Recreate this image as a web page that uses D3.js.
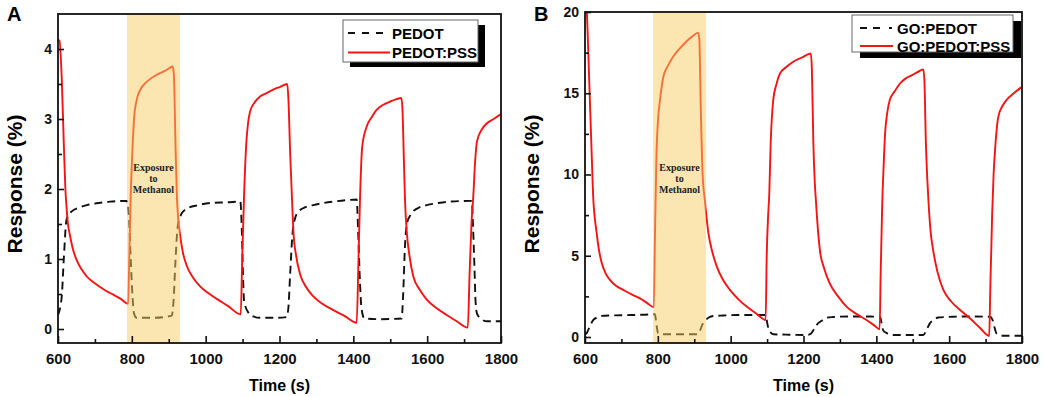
<!DOCTYPE html>
<html>
<head>
<meta charset="utf-8">
<script src="https://cdn.jsdelivr.net/npm/d3@7"></script>
<style>
  body { margin: 0; background: #fff; }
  svg { display: block; font-family: Arial, "Liberation Sans", Helvetica, sans-serif; }
</style>
</head>
<body>
<svg id="chart" width="1045" height="397"></svg>
<script>
// ---- data ----
const xTicks = [600, 800, 1000, 1200, 1400, 1600, 1800];
const xMinorTicks = [700, 900, 1100, 1300, 1500, 1700];
const yTicksA = [0, 1, 2, 3, 4];
const yMinorTicksA = [0.5, 1.5, 2.5, 3.5];
const yTicksB = [0, 5, 10, 15, 20];
const yMinorTicksB = [2.5, 7.5, 12.5, 17.5];
const exposureA = [787, 930];
const exposureB = [787, 932];
const exposureText = ["Exposure", "to", "Methanol"];
const namesA = ["PEDOT", "PEDOT:PSS"];
const namesB = ["GO:PEDOT", "GO:PEDOT:PSS"];

// [time (s), response (%)]
const pedotA = [
  [600,0.2],[610,0.46],[616,1.03],[623,1.56],[637,1.68],[660,1.74],[678,1.77],[710,1.8],[741,1.82],[786,1.83],
  [792,1.6],[797,1.0],[802,0.45],[806,0.22],[813,0.16],[860,0.16],[908,0.19],[913,0.4],[918,0.95],[924,1.45],
  [932,1.62],[949,1.72],[980,1.77],[1012,1.8],[1060,1.81],[1094,1.82],[1098,1.4],[1101,0.8],[1104,0.41],[1115,0.24],
  [1129,0.18],[1147,0.16],[1190,0.16],[1219,0.17],[1224,0.3],[1229,0.8],[1235,1.35],[1242,1.58],[1252,1.68],[1270,1.74],
  [1291,1.77],[1320,1.8],[1346,1.82],[1380,1.84],[1409,1.85],[1413,1.4],[1417,0.8],[1422,0.3],[1430,0.15],[1470,0.14],
  [1531,0.15],[1535,0.5],[1540,1.2],[1546,1.52],[1554,1.62],[1562,1.68],[1580,1.74],[1599,1.77],[1630,1.8],[1662,1.82],
  [1721,1.83],[1724,1.5],[1728,0.9],[1731,0.4],[1735,0.22],[1745,0.15],[1762,0.11],[1800,0.11]
];
const pedotPssA = [
  [600,4.13],[604,4.12],[610,3.6],[616,2.6],[620,2.0],[623,1.75],[627,1.5],[632,1.35],[640,1.15],[650,0.99],
  [663,0.86],[678,0.75],[695,0.67],[714,0.6],[732,0.54],[750,0.49],[770,0.43],[790,0.36],[793,1.0],[797,1.9],
  [802,2.6],[806,3.0],[813,3.27],[822,3.41],[840,3.53],[867,3.63],[894,3.7],[911,3.75],[914,3.62],[918,2.7],
  [922,1.9],[926,1.55],[930,1.37],[938,1.1],[949,0.9],[965,0.74],[985,0.61],[1005,0.52],[1030,0.43],[1060,0.33],
  [1095,0.21],[1099,1.0],[1104,1.9],[1110,2.65],[1115,2.95],[1120,3.1],[1133,3.24],[1147,3.32],[1165,3.37],[1183,3.42],
  [1202,3.46],[1221,3.5],[1224,3.3],[1229,2.5],[1234,1.84],[1238,1.37],[1245,1.05],[1256,0.78],[1272,0.6],[1291,0.47],
  [1316,0.36],[1346,0.27],[1378,0.18],[1409,0.09],[1414,1.0],[1418,1.84],[1424,2.6],[1436,2.89],[1450,3.03],[1463,3.13],
  [1480,3.2],[1500,3.25],[1515,3.28],[1530,3.3],[1533,3.15],[1537,2.4],[1540,1.84],[1545,1.37],[1552,1.05],[1562,0.76],
  [1580,0.56],[1599,0.42],[1625,0.3],[1653,0.2],[1680,0.11],[1710,0.02],[1715,0.8],[1720,1.5],[1725,1.9],[1730,2.4],
  [1735,2.68],[1748,2.85],[1762,2.94],[1780,3.0],[1800,3.07]
];
const goPedotB = [
  [600,0.15],[605,0.25],[614,0.7],[623,1.05],[632,1.2],[641,1.29],[680,1.33],[724,1.35],[760,1.37],[792,1.4],
  [795,1.0],[798,0.5],[801,0.23],[815,0.17],[860,0.17],[906,0.17],[912,0.2],[916,0.4],[922,0.75],[929,0.98],
  [940,1.2],[952,1.29],[980,1.32],[1016,1.35],[1060,1.35],[1096,1.35],[1100,0.9],[1104,0.5],[1108,0.33],[1117,0.17],
  [1160,0.14],[1209,0.12],[1220,0.2],[1228,0.45],[1236,0.74],[1250,1.0],[1264,1.19],[1282,1.23],[1300,1.25],[1350,1.26],
  [1410,1.25],[1414,0.9],[1419,0.4],[1430,0.22],[1446,0.12],[1490,0.12],[1529,0.12],[1537,0.4],[1547,0.84],[1558,1.05],
  [1570,1.2],[1590,1.23],[1611,1.25],[1660,1.26],[1712,1.25],[1720,1.0],[1725,0.55],[1730,0.22],[1740,0.12],[1748,0.08],
  [1800,0.08]
];
const goPedotPssB = [
  [600,21.5],[605,20],[612,15.5],[618,11.5],[623,8.4],[627,7.3],[632,6.4],[638,5.4],[646,4.55],[656,3.95],
  [669,3.5],[685,3.15],[705,2.9],[728,2.62],[751,2.38],[770,2.1],[789,1.83],[792,6],[796,11],[801,13.5],
  [806,14.6],[815,16.0],[828,16.7],[842,17.25],[860,17.75],[879,18.2],[895,18.5],[911,18.73],[914,18.3],[918,14],
  [923,10],[929,8.43],[939,6.38],[950,5.2],[962,4.33],[978,3.55],[998,2.9],[1020,2.35],[1044,1.87],[1070,1.45],
  [1096,1.05],[1099,5],[1103,7.5],[1106,8.8],[1110,12],[1117,14.6],[1125,15.5],[1135,16.2],[1152,16.6],[1172,16.94],
  [1196,17.2],[1220,17.45],[1223,16.5],[1227,12],[1231,9.5],[1234,8.43],[1240,6.5],[1245,5.35],[1257,4.2],[1272,3.3],
  [1295,2.5],[1318,1.87],[1345,1.42],[1373,1.05],[1395,0.7],[1409,0.47],[1412,4],[1416,8],[1420,10.5],[1424,12.5],
  [1430,13.8],[1437,14.6],[1450,15.1],[1465,15.6],[1480,15.9],[1497,16.1],[1513,16.3],[1529,16.47],[1532,15.8],[1536,12],
  [1540,9.7],[1543,8.43],[1549,6.5],[1556,5.35],[1568,4.0],[1584,2.9],[1605,2.2],[1630,1.66],[1657,1.15],[1685,0.55],
  [1710,0.06],[1713,3],[1718,7.5],[1722,10],[1726,11.5],[1735,13.56],[1746,14.2],[1758,14.6],[1775,14.95],[1794,15.3],
  [1800,15.4]
];

const RED = "#f51414";

function drawPanel(svg, p) {
  const x = d3.scaleLinear().domain([600, 1800]).range([p.left, p.right]);
  const y = d3.scaleLinear().domain(p.yDomain).range([p.bottom, p.top]);

  svg.append("clipPath").attr("id", "clip" + p.id)
    .append("rect")
    .attr("x", p.left).attr("y", p.top)
    .attr("width", p.right - p.left).attr("height", p.bottom - p.top);

  const plot = svg.append("g").attr("clip-path", `url(#clip${p.id})`);
  const line = d3.line().x((d) => x(d[0])).y((d) => y(d[1])).curve(d3.curveMonotoneX);

  plot.append("path").datum(p.dashed)
    .attr("fill", "none").attr("stroke", "#111").attr("stroke-width", 1.9)
    .attr("stroke-dasharray", "8,5").attr("d", line);
  plot.append("path").datum(p.solid)
    .attr("fill", "none").attr("stroke", RED).attr("stroke-width", 1.9)
    .attr("d", line);

  // exposure band, laid over the curves like the original
  plot.append("rect")
    .attr("x", x(p.exposure[0])).attr("y", p.top)
    .attr("width", x(p.exposure[1]) - x(p.exposure[0]))
    .attr("height", p.bottom - p.top)
    .attr("fill", "rgb(248,204,98)").attr("opacity", 0.5);

  const cx = (x(p.exposure[0]) + x(p.exposure[1])) / 2;
  svg.append("g").selectAll("text").data(exposureText).enter().append("text")
    .attr("x", cx).attr("y", (d, i) => p.noteY + i * 11)
    .attr("text-anchor", "middle")
    .style("font-family", "'Liberation Serif', 'Times New Roman', serif")
    .style("font-weight", "bold").style("font-size", "10px")
    .attr("fill", "#222").text((d) => d);

  // axes, ticks pointing inwards
  const xAxis = svg.append("g").attr("transform", `translate(0,${p.bottom})`)
    .call(d3.axisBottom(x).tickValues(xTicks).tickFormat(d3.format("d"))
      .tickSizeInner(-7).tickSizeOuter(0).tickPadding(10));
  xAxis.selectAll("text").style("font-size", "15px").style("font-weight", "bold").attr("fill", "#111");
  svg.append("g").attr("transform", `translate(0,${p.bottom})`)
    .call(d3.axisBottom(x).tickValues(xMinorTicks).tickSizeInner(-4).tickSizeOuter(0).tickFormat(""));

  const yAxis = svg.append("g").attr("transform", `translate(${p.left},0)`)
    .call(d3.axisLeft(y).tickValues(p.yTicks).tickFormat(d3.format("d"))
      .tickSizeInner(-6).tickSizeOuter(0).tickPadding(6));
  yAxis.selectAll("text").style("font-size", "14px").style("font-weight", "bold").attr("fill", "#111");
  svg.append("g").attr("transform", `translate(${p.left},0)`)
    .call(d3.axisLeft(y).tickValues(p.yMinor).tickSizeInner(-4).tickSizeOuter(0).tickFormat(""));

  svg.selectAll(".domain").remove();
  svg.selectAll(".tick line").attr("stroke", "#111").attr("stroke-width", 1.6);

  svg.append("rect")
    .attr("x", p.left).attr("y", p.top)
    .attr("width", p.right - p.left).attr("height", p.bottom - p.top)
    .attr("fill", "none").attr("stroke", "#111").attr("stroke-width", 1.8);

  // titles
  svg.append("text")
    .attr("x", (p.left + p.right) / 2).attr("y", 391)
    .attr("text-anchor", "middle")
    .style("font-size", "16px").style("font-weight", "bold")
    .text("Time (s)");
  svg.append("text")
    .attr("transform", `translate(${p.yTitleX},184) rotate(-90)`)
    .attr("text-anchor", "middle")
    .style("font-size", "21px").style("font-weight", "bold")
    .text("Response (%)");
  svg.append("text")
    .attr("x", p.letterX).attr("y", 21)
    .style("font-size", "20px").style("font-weight", "bold")
    .text(p.id);

  // legend with drop shadow
  const lg = p.legend;
  svg.append("rect").attr("x", lg.x + lg.shadow[0]).attr("y", lg.y + lg.shadow[1])
    .attr("width", lg.w).attr("height", lg.h).attr("fill", "#000");
  svg.append("rect").attr("x", lg.x).attr("y", lg.y)
    .attr("width", lg.w).attr("height", lg.h)
    .attr("fill", "#fff").attr("stroke", "#666").attr("stroke-width", 1);

  p.names.forEach((name, i) => {
    const rowY = lg.y + lg.rows[i];
    svg.append("line")
      .attr("x1", lg.x + lg.line[0]).attr("x2", lg.x + lg.line[1])
      .attr("y1", rowY).attr("y2", rowY)
      .attr("stroke", i === 0 ? "#111" : RED).attr("stroke-width", 1.9)
      .attr("stroke-dasharray", i === 0 ? lg.dash : null);
    svg.append("text")
      .attr("x", lg.x + lg.textX).attr("y", rowY + 5.5)
      .style("font-size", "15px").style("font-weight", "bold")
      .text(name);
  });
}

function init() {
  const svg = d3.select("#chart");
  drawPanel(svg, {
    id: "A", left: 58, right: 501, top: 14, bottom: 343,
    yDomain: [-0.2, 4.5], yTicks: yTicksA, yMinor: yMinorTicksA,
    dashed: pedotA, solid: pedotPssA, exposure: exposureA, noteY: 171,
    names: namesA, yTitleX: 22, letterX: 7,
    legend: { x: 343, y: 20, w: 135, h: 42, shadow: [7, 5], rows: [13, 32.5],
              line: [5, 47], textX: 49, dash: "7,7" }
  });
  drawPanel(svg, {
    id: "B", left: 585, right: 1022, top: 12, bottom: 343,
    yDomain: [-0.37, 20], yTicks: yTicksB, yMinor: yMinorTicksB,
    dashed: goPedotB, solid: goPedotPssB, exposure: exposureB, noteY: 170.5,
    names: namesB, yTitleX: 539, letterX: 534,
    legend: { x: 852, y: 15, w: 161, h: 37, shadow: [8, 6], rows: [13, 31],
              line: [8, 41], textX: 45, dash: "7,6,7,9,3,40" }
  });
}

window.addEventListener("load", init);
</script>
</body>
</html>
